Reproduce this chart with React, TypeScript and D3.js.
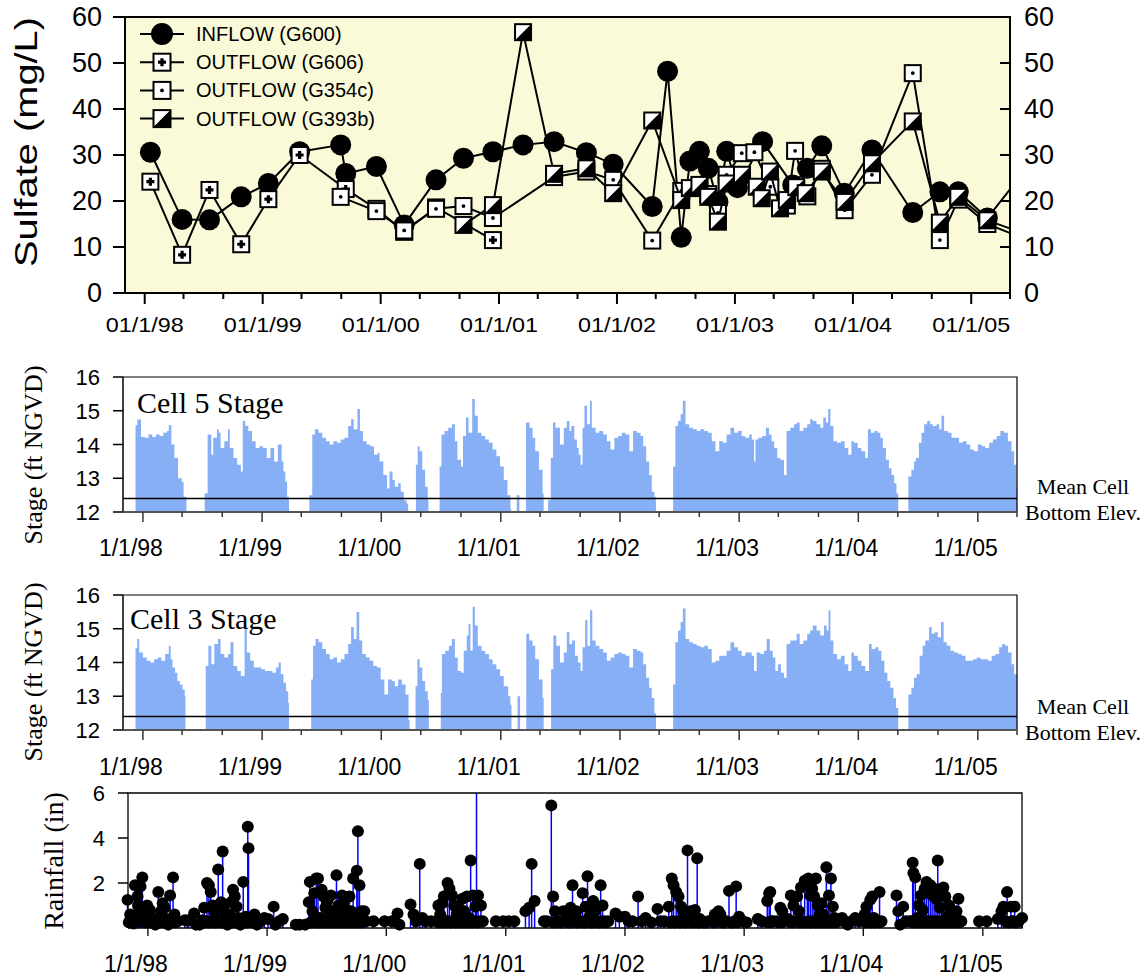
import React, { useEffect, useRef } from "react";
import * as d3 from "d3";

const SANS = "'Liberation Sans', Arial, Helvetica, sans-serif";
const SERIF = "'Liberation Serif', 'Times New Roman', Times, serif";

// Shared time window for every panel
const DATE_START = new Date(Date.UTC(1997, 10, 1));
const DATE_END = new Date(Date.UTC(2005, 4, 1));

// Sulfate samples: [decimal year, mg/L]
const inflowG600: [number, number][] = [
  [1998.048, 30.6], [1998.317, 16.0], [1998.549, 15.9], [1998.818, 20.9], [1999.048, 23.8],
  [1999.313, 30.7], [1999.661, 32.2], [1999.704, 26.0], [1999.964, 27.5], [2000.199, 14.8],
  [2000.468, 24.6], [2000.7, 29.3], [2000.949, 30.7], [2001.204, 32.2], [2001.467, 32.9],
  [2001.741, 30.5], [2001.968, 28.0], [2002.299, 18.8], [2002.429, 48.2], [2002.545, 12.1],
  [2002.618, 28.7], [2002.699, 30.8], [2002.774, 27.1], [2002.856, 19.8], [2002.93, 30.8],
  [2003.021, 22.9], [2003.234, 32.9], [2003.49, 23.5], [2003.614, 27.1], [2003.736, 32.0],
  [2003.927, 21.7], [2004.161, 31.1], [2004.506, 17.5], [2004.735, 22.0], [2004.891, 22.0],
  [2005.137, 16.3], [2005.45, 26.5],
];
const outflowG606: [number, number][] = [
  [1998.048, 24.2], [1998.317, 8.3], [1998.549, 22.4], [1998.818, 10.6], [1999.048, 20.4],
  [1999.313, 30.0], [1999.704, 22.6], [1999.964, 18.3], [2000.199, 13.3], [2000.468, 18.6],
  [2000.949, 11.5],
];
const outflowG354c: [number, number][] = [
  [1999.661, 20.9], [1999.964, 17.8], [2000.199, 13.6], [2000.468, 18.3], [2000.7, 18.9],
  [2000.949, 16.3], [2001.467, 25.2], [2001.741, 26.4], [2001.968, 24.6], [2002.299, 11.4],
  [2002.545, 22.2], [2002.699, 23.0], [2002.774, 21.5], [2002.856, 17.4], [2002.93, 25.7],
  [2003.058, 30.4], [2003.165, 30.6], [2003.3, 23.1], [2003.44, 19.0], [2003.51, 30.9],
  [2003.614, 21.0], [2003.736, 27.0], [2003.93, 18.0], [2004.161, 25.7], [2004.506, 47.8],
  [2004.735, 11.5], [2004.891, 20.3], [2005.137, 15.0], [2005.45, 11.8],
];
const outflowG393b: [number, number][] = [
  [2000.7, 14.8], [2000.949, 19.1], [2001.204, 56.7], [2001.467, 25.9], [2001.741, 27.1],
  [2001.968, 21.7], [2002.299, 37.5], [2002.545, 20.2], [2002.618, 22.8], [2002.699, 23.5],
  [2002.774, 20.9], [2002.856, 15.5], [2002.93, 23.8], [2003.06, 25.7], [2003.185, 23.1],
  [2003.227, 20.6], [2003.297, 26.4], [2003.382, 18.4], [2003.44, 20.2], [2003.52, 23.0],
  [2003.6, 21.7], [2003.736, 26.4], [2003.929, 19.8], [2004.161, 28.2], [2004.506, 37.3],
  [2004.735, 15.3], [2004.891, 20.9], [2005.137, 15.8], [2005.45, 12.9],
];
const sulfateLegend = ["INFLOW (G600)", "OUTFLOW (G606)", "OUTFLOW (G354c)", "OUTFLOW (G393b)"];
const sulfateTicks = [0, 10, 20, 30, 40, 50, 60];

// Cell stage runs while the cell held water: [decimal year, ft NGVD]
const cell5Stage: [number, number][][] = [
  [[1997.938, 14.57], [1997.953, 14.74], [1997.984, 14.22], [1998.016, 14.2], [1998.047, 14.3], [1998.078, 14.22], [1998.109, 14.3], [1998.14, 14.25], [1998.171, 14.35], [1998.202, 14.4], [1998.217, 14.57], [1998.239, 14.0], [1998.264, 13.6], [1998.295, 13.0], [1998.326, 12.9], [1998.341, 12.45], [1998.366, 12.0]],
  [[1998.518, 12.55], [1998.543, 14.3], [1998.574, 13.7], [1998.59, 14.2], [1998.621, 14.45], [1998.636, 14.35], [1998.652, 13.9], [1998.683, 14.1], [1998.714, 14.45], [1998.729, 13.9], [1998.76, 13.6], [1998.791, 13.4], [1998.822, 13.2], [1998.838, 14.7], [1998.859, 14.55], [1998.884, 14.4], [1998.915, 14.1], [1998.946, 13.9], [1998.977, 13.95], [1999.008, 13.9], [1999.039, 13.6], [1999.07, 13.9], [1999.101, 13.5], [1999.132, 14.0], [1999.164, 13.5], [1999.179, 13.2], [1999.195, 12.9], [1999.21, 12.45], [1999.226, 12.0]],
  [[1999.396, 12.5], [1999.421, 14.3], [1999.443, 14.45], [1999.474, 14.35], [1999.505, 14.2], [1999.536, 14.1], [1999.567, 14.0], [1999.598, 14.1], [1999.629, 14.05], [1999.66, 14.15], [1999.691, 14.2], [1999.722, 14.55], [1999.747, 14.75], [1999.769, 14.45], [1999.8, 15.05], [1999.821, 14.4], [1999.846, 14.1], [1999.877, 14.0], [1999.908, 13.95], [1999.939, 13.7], [1999.97, 13.75], [1999.986, 13.5], [2000.017, 13.1], [2000.048, 12.7], [2000.069, 13.2], [2000.094, 12.95], [2000.113, 12.75], [2000.141, 12.85], [2000.163, 12.6], [2000.188, 12.35], [2000.212, 12.25], [2000.225, 12.05]],
  [[2000.29, 13.4], [2000.305, 13.95], [2000.321, 13.8], [2000.343, 13.25], [2000.367, 12.75], [2000.389, 12.35], [2000.395, 12.0]],
  [[2000.488, 13.35], [2000.504, 14.3], [2000.529, 14.4], [2000.56, 14.5], [2000.591, 14.6], [2000.616, 14.1], [2000.637, 13.55], [2000.668, 13.35], [2000.684, 14.25], [2000.709, 14.8], [2000.73, 14.35], [2000.761, 15.35], [2000.783, 14.85], [2000.808, 14.35], [2000.839, 14.25], [2000.87, 14.15], [2000.901, 14.05], [2000.932, 13.85], [2000.963, 13.65], [2000.994, 13.35], [2001.025, 12.95], [2001.056, 12.5], [2001.081, 12.1], [2001.087, 12.0]],
  [[2001.134, 12.5], [2001.156, 12.0]],
  [[2001.211, 14.65], [2001.242, 14.5], [2001.267, 14.2], [2001.289, 13.8], [2001.32, 13.25], [2001.351, 12.55], [2001.36, 12.0]],
  [[2001.397, 12.35], [2001.419, 13.6], [2001.438, 14.65], [2001.459, 14.5], [2001.497, 14.0], [2001.529, 14.5], [2001.554, 14.7], [2001.576, 14.4], [2001.592, 14.55], [2001.617, 14.15], [2001.639, 13.9], [2001.654, 13.7], [2001.67, 13.4], [2001.686, 14.5], [2001.702, 15.15], [2001.724, 14.6], [2001.749, 15.3], [2001.764, 14.5], [2001.796, 14.35], [2001.827, 14.4], [2001.859, 14.3], [2001.89, 14.1], [2001.921, 13.85], [2001.953, 14.2], [2001.984, 14.25], [2002.016, 14.35], [2002.047, 14.3], [2002.079, 13.8], [2002.11, 14.4], [2002.141, 14.35], [2002.173, 14.25], [2002.195, 13.95], [2002.22, 13.5], [2002.245, 13.1], [2002.267, 12.6], [2002.289, 12.45], [2002.302, 12.0]],
  [[2002.446, 13.35], [2002.465, 14.55], [2002.487, 14.7], [2002.509, 14.9], [2002.528, 15.3], [2002.55, 14.6], [2002.581, 14.5], [2002.613, 14.45], [2002.644, 14.4], [2002.675, 14.45], [2002.707, 14.4], [2002.738, 14.35], [2002.77, 14.1], [2002.801, 13.8], [2002.833, 14.1], [2002.864, 14.05], [2002.895, 14.3], [2002.927, 14.5], [2002.958, 14.35], [2002.99, 14.4], [2003.021, 14.25], [2003.052, 14.2], [2003.084, 14.3], [2003.106, 14.15], [2003.125, 13.5], [2003.137, 14.15], [2003.162, 14.2], [2003.194, 14.25], [2003.225, 14.5], [2003.25, 14.3], [2003.272, 14.1], [2003.294, 13.9], [2003.32, 13.6], [2003.345, 13.55], [2003.376, 13.1], [2003.398, 14.4], [2003.429, 14.5], [2003.461, 14.6], [2003.483, 14.65], [2003.508, 14.4], [2003.539, 14.5], [2003.571, 14.6], [2003.596, 14.75], [2003.618, 14.7], [2003.649, 14.6], [2003.681, 14.5], [2003.706, 14.8], [2003.728, 14.65], [2003.747, 15.05], [2003.766, 14.55], [2003.791, 14.1], [2003.822, 14.05], [2003.854, 14.1], [2003.885, 13.9], [2003.916, 13.7], [2003.942, 14.1], [2003.964, 14.05], [2003.995, 13.9], [2004.026, 13.8], [2004.058, 13.6], [2004.08, 14.45], [2004.105, 14.35], [2004.136, 14.4], [2004.161, 14.35], [2004.184, 14.2], [2004.205, 13.9], [2004.231, 13.55], [2004.256, 13.3], [2004.278, 13.1], [2004.3, 12.85], [2004.319, 12.55], [2004.334, 12.0]],
  [[2004.419, 13.05], [2004.444, 13.25], [2004.466, 13.5], [2004.482, 13.6], [2004.507, 14.05], [2004.529, 14.35], [2004.551, 14.6], [2004.576, 14.7], [2004.601, 14.6], [2004.623, 14.55], [2004.655, 14.6], [2004.677, 14.45], [2004.696, 14.85], [2004.718, 14.4], [2004.749, 14.35], [2004.78, 14.2], [2004.812, 14.2], [2004.843, 14.05], [2004.875, 14.1], [2004.906, 14.0], [2004.937, 13.85], [2004.969, 13.8], [2005.0, 14.0], [2005.032, 13.95], [2005.063, 13.9], [2005.095, 14.05], [2005.126, 14.15], [2005.157, 14.25], [2005.189, 14.4], [2005.22, 14.35], [2005.252, 14.1], [2005.283, 13.8], [2005.305, 13.4], [2005.324, 12.75], [2005.33, 12.75]],
];

const cell3Stage: [number, number][][] = [
  [[1997.938, 14.42], [1997.953, 14.7], [1997.969, 14.3], [1998.0, 14.15], [1998.031, 14.05], [1998.062, 14.0], [1998.093, 14.1], [1998.124, 14.15], [1998.155, 14.05], [1998.186, 14.25], [1998.217, 14.5], [1998.233, 14.1], [1998.248, 13.85], [1998.27, 13.7], [1998.289, 13.45], [1998.31, 13.35], [1998.332, 13.2], [1998.351, 13.0], [1998.357, 13.0]],
  [[1998.527, 13.9], [1998.549, 14.5], [1998.574, 13.95], [1998.599, 14.55], [1998.63, 14.7], [1998.652, 14.25], [1998.683, 14.15], [1998.714, 14.25], [1998.735, 14.6], [1998.76, 13.9], [1998.791, 13.75], [1998.822, 13.6], [1998.853, 15.05], [1998.872, 14.3], [1998.9, 14.05], [1998.931, 13.85], [1998.962, 13.85], [1998.993, 13.8], [1999.024, 13.75], [1999.055, 13.75], [1999.086, 13.7], [1999.117, 13.85], [1999.139, 14.0], [1999.157, 13.65], [1999.179, 13.4], [1999.201, 13.15], [1999.219, 12.8], [1999.226, 12.8]],
  [[1999.412, 13.5], [1999.427, 14.5], [1999.449, 14.7], [1999.474, 14.6], [1999.505, 14.4], [1999.536, 14.25], [1999.567, 14.1], [1999.598, 14.15], [1999.629, 14.0], [1999.66, 14.1], [1999.691, 14.25], [1999.722, 14.55], [1999.747, 15.05], [1999.769, 14.7], [1999.793, 15.5], [1999.815, 14.65], [1999.84, 14.25], [1999.871, 14.15], [1999.902, 14.05], [1999.933, 13.9], [1999.964, 13.85], [1999.995, 13.5], [2000.026, 13.05], [2000.057, 13.5], [2000.088, 13.45], [2000.113, 13.3], [2000.141, 13.5], [2000.172, 13.35], [2000.203, 13.05], [2000.228, 12.3], [2000.237, 12.3]],
  [[2000.287, 13.3], [2000.302, 14.1], [2000.321, 13.85], [2000.343, 13.45], [2000.367, 13.15], [2000.389, 12.9], [2000.398, 12.9]],
  [[2000.498, 13.1], [2000.507, 14.25], [2000.535, 14.35], [2000.566, 14.5], [2000.591, 14.7], [2000.616, 14.15], [2000.64, 13.75], [2000.668, 13.7], [2000.69, 14.35], [2000.715, 14.8], [2000.73, 15.15], [2000.746, 14.35], [2000.765, 15.65], [2000.783, 15.1], [2000.808, 14.5], [2000.839, 14.35], [2000.87, 14.25], [2000.901, 14.1], [2000.932, 13.95], [2000.963, 13.8], [2000.994, 13.6], [2001.025, 13.3], [2001.062, 13.0], [2001.081, 12.75], [2001.09, 12.75]],
  [[2001.141, 13.0], [2001.162, 13.0]],
  [[2001.214, 14.85], [2001.239, 14.65], [2001.267, 14.5], [2001.289, 14.1], [2001.32, 13.5], [2001.351, 12.95], [2001.36, 12.95]],
  [[2001.422, 13.8], [2001.441, 14.8], [2001.466, 14.5], [2001.497, 14.0], [2001.529, 14.3], [2001.554, 14.9], [2001.576, 14.55], [2001.598, 14.65], [2001.623, 14.2], [2001.648, 14.0], [2001.67, 13.75], [2001.686, 14.45], [2001.708, 15.25], [2001.727, 14.5], [2001.749, 15.55], [2001.768, 14.65], [2001.796, 14.5], [2001.827, 14.4], [2001.859, 14.3], [2001.89, 14.05], [2001.921, 14.15], [2001.953, 14.25], [2001.984, 14.3], [2002.016, 14.25], [2002.047, 14.2], [2002.079, 13.85], [2002.11, 14.4], [2002.141, 14.35], [2002.173, 14.3], [2002.195, 13.95], [2002.22, 13.55], [2002.245, 13.25], [2002.267, 12.95], [2002.289, 12.5], [2002.302, 12.5]],
  [[2002.446, 13.35], [2002.465, 14.6], [2002.487, 14.95], [2002.509, 15.2], [2002.528, 15.6], [2002.55, 14.7], [2002.581, 14.6], [2002.613, 14.55], [2002.644, 14.5], [2002.675, 14.45], [2002.707, 14.5], [2002.738, 14.4], [2002.77, 14.0], [2002.801, 14.05], [2002.833, 14.2], [2002.864, 14.2], [2002.895, 14.35], [2002.927, 14.6], [2002.958, 14.45], [2002.99, 14.35], [2003.021, 14.2], [2003.052, 14.3], [2003.084, 14.3], [2003.106, 14.2], [2003.125, 13.75], [2003.147, 14.3], [2003.178, 14.25], [2003.209, 14.35], [2003.231, 14.7], [2003.257, 14.35], [2003.282, 14.15], [2003.304, 13.75], [2003.326, 13.95], [2003.351, 13.7], [2003.376, 13.55], [2003.398, 14.55], [2003.429, 14.65], [2003.461, 14.65], [2003.483, 14.85], [2003.508, 14.55], [2003.539, 14.65], [2003.571, 14.85], [2003.596, 14.95], [2003.618, 15.1], [2003.649, 14.95], [2003.681, 14.8], [2003.712, 15.1], [2003.734, 14.95], [2003.75, 15.55], [2003.766, 14.65], [2003.791, 14.25], [2003.822, 14.1], [2003.854, 14.2], [2003.885, 13.95], [2003.916, 13.75], [2003.942, 14.3], [2003.964, 14.2], [2003.995, 14.05], [2004.026, 13.9], [2004.058, 13.75], [2004.089, 14.55], [2004.111, 14.4], [2004.143, 14.45], [2004.168, 14.35], [2004.193, 14.05], [2004.218, 13.7], [2004.243, 13.45], [2004.268, 13.25], [2004.294, 12.95], [2004.315, 12.65], [2004.334, 12.1]],
  [[2004.419, 13.05], [2004.444, 13.25], [2004.466, 13.55], [2004.488, 13.65], [2004.513, 14.2], [2004.538, 14.5], [2004.56, 14.65], [2004.592, 15.05], [2004.614, 14.85], [2004.639, 14.9], [2004.664, 14.75], [2004.692, 15.2], [2004.714, 14.6], [2004.74, 14.5], [2004.771, 14.35], [2004.802, 14.3], [2004.834, 14.25], [2004.865, 14.2], [2004.897, 14.05], [2004.928, 14.05], [2004.959, 14.1], [2004.991, 14.15], [2005.022, 14.1], [2005.054, 14.1], [2005.085, 14.05], [2005.116, 14.2], [2005.148, 14.25], [2005.179, 14.45], [2005.204, 14.55], [2005.229, 14.5], [2005.254, 14.3], [2005.283, 13.95], [2005.305, 13.65], [2005.33, 13.45]],
];
const stageTicks = [12, 13, 14, 15, 16];
const meanCellBottom = 12.4;

// Daily rainfall events: [decimal year, inches]
const rainfall: [number, number][] = [
  [1997.829, 1.25], [1997.851, 0.6], [1997.87, 0.5], [1997.891, 1.9], [1997.913, 1.4], [1997.917, 1.0], [1997.922, 0.7], [1997.938, 1.85], [1997.953, 2.25], [1997.969, 0.6], [1997.994, 1.0],
  [1998.016, 0.8], [1998.031, 0.45], [1998.047, 0.3], [1998.062, 0.15], [1998.087, 1.6], [1998.109, 0.75], [1998.124, 1.1], [1998.14, 0.9], [1998.155, 0.4], [1998.171, 0.15], [1998.186, 1.45], [1998.211, 2.25], [1998.223, 0.6], [1998.248, 0.3],
  [1998.31, 0.35], [1998.341, 0.35], [1998.388, 0.65], [1998.403, 0.15], [1998.434, 0.15], [1998.459, 0.35], [1998.472, 0.9], [1998.496, 2.0], [1998.512, 1.9], [1998.527, 1.6], [1998.543, 1.0], [1998.558, 0.75], [1998.574, 0.3], [1998.59, 2.6], [1998.596, 1.0], [1998.614, 1.15], [1998.627, 3.4], [1998.636, 0.8], [1998.652, 0.45], [1998.667, 0.15], [1998.683, 0.6], [1998.698, 1.15], [1998.714, 1.7], [1998.729, 1.4], [1998.745, 0.95], [1998.76, 0.45], [1998.776, 0.15], [1998.8, 2.05], [1998.822, 0.5], [1998.838, 4.5], [1998.844, 3.55], [1998.869, 0.45], [1998.894, 0.6], [1998.915, 0.15], [1998.946, 0.3], [1998.977, 0.45],
  [1999.008, 0.4], [1999.055, 0.95], [1999.07, 0.15], [1999.101, 0.3], [1999.132, 0.4], [1999.241, 0.15], [1999.272, 0.15], [1999.319, 0.15], [1999.35, 1.15], [1999.359, 2.05], [1999.381, 0.75], [1999.396, 1.55], [1999.412, 2.2], [1999.427, 2.2], [1999.443, 0.45], [1999.458, 1.7], [1999.474, 1.4], [1999.489, 0.9], [1999.505, 1.2], [1999.52, 0.45], [1999.536, 1.45], [1999.551, 0.75], [1999.567, 0.3], [1999.582, 2.35], [1999.598, 1.0], [1999.613, 0.6], [1999.629, 1.45], [1999.644, 1.2], [1999.66, 0.8], [1999.675, 0.3], [1999.691, 1.4], [1999.706, 0.75], [1999.722, 2.2], [1999.737, 0.45], [1999.753, 2.55], [1999.762, 4.3], [1999.775, 1.9], [1999.793, 0.75], [1999.815, 0.75], [1999.831, 0.3], [1999.893, 0.3], [1999.986, 0.3],
  [2000.048, 0.3], [2000.094, 0.65], [2000.11, 0.15], [2000.203, 1.05], [2000.228, 0.6], [2000.249, 0.3], [2000.28, 2.85], [2000.302, 0.45], [2000.327, 0.3], [2000.374, 0.3], [2000.42, 0.3], [2000.436, 1.0], [2000.451, 0.6], [2000.467, 1.1], [2000.482, 1.4], [2000.498, 0.3], [2000.513, 2.0], [2000.529, 1.75], [2000.55, 1.45], [2000.569, 1.0], [2000.591, 0.6], [2000.606, 0.9], [2000.622, 0.45], [2000.637, 1.3], [2000.653, 0.75], [2000.675, 1.4], [2000.693, 0.45], [2000.706, 3.0], [2000.724, 1.45], [2000.746, 0.95], [2000.755, 6.8], [2000.768, 1.45], [2000.792, 1.0], [2000.808, 0.3], [2000.917, 0.3], [2000.979, 0.3],
  [2001.025, 0.3], [2001.072, 0.3], [2001.165, 0.75], [2001.196, 0.9], [2001.217, 2.85], [2001.242, 1.2], [2001.32, 0.3], [2001.345, 0.3], [2001.382, 5.45], [2001.397, 1.4], [2001.413, 0.75], [2001.482, 0.75], [2001.513, 0.45], [2001.544, 0.9], [2001.56, 1.9], [2001.592, 0.75], [2001.623, 0.3], [2001.645, 1.55], [2001.67, 0.95], [2001.686, 2.3], [2001.702, 0.5], [2001.733, 1.2], [2001.749, 0.75], [2001.764, 0.3], [2001.796, 1.9], [2001.812, 1.0], [2001.827, 0.3], [2001.859, 0.3], [2001.921, 0.65], [2001.953, 0.5],
  [2002.0, 0.5], [2002.031, 0.3], [2002.063, 0.3], [2002.11, 1.4], [2002.141, 0.3], [2002.173, 0.45], [2002.22, 0.25], [2002.273, 0.85], [2002.298, 0.3], [2002.33, 0.3], [2002.368, 0.95], [2002.393, 2.2], [2002.408, 1.9], [2002.43, 1.6], [2002.449, 1.4], [2002.471, 0.95], [2002.487, 0.75], [2002.503, 0.3], [2002.525, 3.45], [2002.55, 0.75], [2002.565, 0.3], [2002.587, 0.8], [2002.606, 3.1], [2002.628, 0.4], [2002.675, 0.25], [2002.723, 0.3], [2002.754, 0.6], [2002.785, 0.75], [2002.801, 0.6], [2002.833, 0.25], [2002.873, 1.65], [2002.911, 0.25], [2002.933, 1.85], [2002.958, 0.5], [2002.99, 0.3],
  [2003.021, 0.25], [2003.115, 0.4], [2003.147, 0.3], [2003.194, 1.2], [2003.21, 1.55], [2003.219, 1.6], [2003.241, 0.3], [2003.272, 0.3], [2003.304, 0.9], [2003.32, 0.75], [2003.335, 0.3], [2003.367, 0.4], [2003.392, 1.45], [2003.414, 1.0], [2003.445, 1.4], [2003.461, 0.75], [2003.477, 1.8], [2003.508, 2.1], [2003.53, 1.9], [2003.539, 2.2], [2003.555, 1.45], [2003.571, 1.75], [2003.587, 1.4], [2003.602, 2.2], [2003.618, 1.0], [2003.634, 0.6], [2003.649, 1.1], [2003.665, 0.6], [2003.681, 0.3], [2003.69, 2.7], [2003.712, 1.45], [2003.728, 2.2], [2003.744, 0.95], [2003.759, 0.45], [2003.775, 0.3], [2003.822, 0.45], [2003.869, 0.15], [2003.901, 0.3], [2003.932, 0.45], [2003.964, 0.3],
  [2004.011, 0.6], [2004.026, 0.95], [2004.058, 1.25], [2004.074, 1.4], [2004.089, 0.45], [2004.105, 0.3], [2004.136, 1.6], [2004.152, 0.3], [2004.278, 1.45], [2004.293, 0.75], [2004.309, 0.15], [2004.334, 0.95], [2004.356, 0.3], [2004.388, 0.3], [2004.413, 2.9], [2004.419, 2.45], [2004.435, 2.25], [2004.451, 0.45], [2004.466, 1.0], [2004.482, 1.45], [2004.498, 0.8], [2004.513, 1.75], [2004.529, 2.05], [2004.545, 1.6], [2004.561, 1.9], [2004.576, 1.45], [2004.592, 1.75], [2004.608, 1.3], [2004.623, 3.0], [2004.639, 0.9], [2004.655, 1.75], [2004.67, 1.8], [2004.686, 1.4], [2004.702, 0.5], [2004.718, 1.0], [2004.733, 0.75], [2004.749, 0.45], [2004.765, 0.3], [2004.78, 0.75], [2004.796, 1.3], [2004.812, 0.3], [2004.969, 0.3],
  [2005.032, 0.3], [2005.126, 0.4], [2005.157, 0.75], [2005.173, 0.95], [2005.204, 1.6], [2005.236, 0.95], [2005.252, 0.3], [2005.267, 0.95], [2005.33, 0.45],
];
// Light-rain days that crowd the bottom of the rainfall panel in wet seasons
const rainfallLight: [number, number][] = [
  [1997.84, 0.25], [1997.88, 0.2], [1997.9, 0.35], [1997.93, 0.3], [1997.96, 0.3], [1997.98, 0.25], [1998.0, 0.3], [1998.055, 0.25], [1998.075, 0.3], [1998.1, 0.25], [1998.13, 0.3], [1998.15, 0.25], [1998.165, 0.3], [1998.195, 0.25], [1998.235, 0.25],
  [1998.48, 0.25], [1998.5, 0.3], [1998.52, 0.25], [1998.55, 0.3], [1998.565, 0.25], [1998.58, 0.35], [1998.605, 0.3], [1998.62, 0.25], [1998.645, 0.3], [1998.66, 0.3], [1998.675, 0.25], [1998.69, 0.3], [1998.705, 0.25], [1998.72, 0.3], [1998.735, 0.3], [1998.75, 0.25], [1998.77, 0.3], [1998.79, 0.25], [1998.81, 0.3], [1998.83, 0.25], [1998.855, 0.3], [1998.88, 0.25],
  [1999.365, 0.25], [1999.39, 0.3], [1999.405, 0.25], [1999.42, 0.3], [1999.435, 0.25], [1999.45, 0.3], [1999.465, 0.25], [1999.48, 0.3], [1999.497, 0.25], [1999.512, 0.3], [1999.528, 0.25], [1999.544, 0.3], [1999.56, 0.25], [1999.575, 0.3], [1999.59, 0.25], [1999.605, 0.3], [1999.62, 0.25], [1999.636, 0.3], [1999.652, 0.25], [1999.668, 0.3], [1999.683, 0.25], [1999.698, 0.3], [1999.714, 0.25], [1999.73, 0.3], [1999.745, 0.25], [1999.77, 0.3], [1999.785, 0.25], [1999.8, 0.3],
  [2000.44, 0.25], [2000.46, 0.3], [2000.475, 0.25], [2000.49, 0.3], [2000.505, 0.25], [2000.52, 0.3], [2000.54, 0.25], [2000.56, 0.3], [2000.58, 0.25], [2000.598, 0.3], [2000.614, 0.25], [2000.63, 0.3], [2000.645, 0.25], [2000.66, 0.3], [2000.684, 0.25], [2000.7, 0.3], [2000.715, 0.25], [2000.735, 0.3], [2000.76, 0.25], [2000.78, 0.3],
  [2001.4, 0.25], [2001.43, 0.3], [2001.46, 0.25], [2001.5, 0.3], [2001.53, 0.25], [2001.57, 0.3], [2001.6, 0.25], [2001.63, 0.3], [2001.66, 0.25], [2001.71, 0.3], [2001.72, 0.25], [2001.74, 0.3], [2001.78, 0.25], [2001.8, 0.3], [2001.84, 0.25],
  [2002.38, 0.25], [2002.4, 0.3], [2002.42, 0.25], [2002.44, 0.3], [2002.46, 0.25], [2002.48, 0.3], [2002.51, 0.25], [2002.535, 0.3], [2002.575, 0.25], [2002.595, 0.3], [2002.615, 0.25], [2002.64, 0.3], [2002.66, 0.25], [2002.7, 0.3], [2002.74, 0.25], [2002.77, 0.3], [2002.815, 0.25], [2002.85, 0.3], [2002.89, 0.25], [2002.92, 0.3], [2002.945, 0.25],
  [2003.2, 0.25], [2003.23, 0.3], [2003.29, 0.25], [2003.38, 0.3], [2003.4, 0.25], [2003.43, 0.3], [2003.47, 0.25], [2003.49, 0.3], [2003.52, 0.25], [2003.545, 0.3], [2003.56, 0.25], [2003.58, 0.3], [2003.595, 0.25], [2003.61, 0.3], [2003.625, 0.25], [2003.64, 0.3], [2003.657, 0.25], [2003.673, 0.3], [2003.7, 0.25], [2003.72, 0.3], [2003.735, 0.25], [2003.75, 0.3], [2003.765, 0.25], [2003.79, 0.3],
  [2004.02, 0.25], [2004.04, 0.3], [2004.065, 0.25], [2004.08, 0.3], [2004.095, 0.25], [2004.12, 0.3], [2004.14, 0.25],
  [2004.4, 0.3], [2004.425, 0.25], [2004.44, 0.3], [2004.46, 0.25], [2004.475, 0.3], [2004.49, 0.25], [2004.505, 0.3], [2004.52, 0.25], [2004.537, 0.3], [2004.553, 0.25], [2004.568, 0.3], [2004.584, 0.25], [2004.6, 0.3], [2004.615, 0.25], [2004.631, 0.3], [2004.647, 0.25], [2004.662, 0.3], [2004.678, 0.25], [2004.694, 0.3], [2004.71, 0.25], [2004.725, 0.3], [2004.741, 0.25], [2004.757, 0.3], [2004.772, 0.25], [2004.788, 0.3], [2004.804, 0.25], [2004.82, 0.3],
  [2005.19, 0.3], [2005.215, 0.25], [2005.245, 0.3], [2005.28, 0.25], [2005.3, 0.3],
];
const rainTicks = [2, 4, 6];

type Sel = d3.Selection<any, unknown, null, undefined>;
type MarkerKind = "circle" | "plus" | "dot" | "half";

const sulfateSeries: { data: [number, number][]; marker: MarkerKind }[] = [
  { data: inflowG600, marker: "circle" },
  { data: outflowG606, marker: "plus" },
  { data: outflowG354c, marker: "dot" },
  { data: outflowG393b, marker: "half" },
];

function yearToDate(y: number): Date {
  const yr = Math.floor(y);
  const a = Date.UTC(yr, 0, 1);
  const b = Date.UTC(yr + 1, 0, 1);
  return new Date(a + (y - yr) * (b - a));
}

function drawMarker(g: Sel, kind: MarkerKind, cx: number, cy: number, size: number) {
  if (kind === "circle") {
    g.append("circle").attr("cx", cx).attr("cy", cy).attr("r", size / 2).attr("fill", "#000");
    return;
  }
  const h = size / 2;
  g.append("rect").attr("x", cx - h).attr("y", cy - h).attr("width", size).attr("height", size)
    .attr("fill", "#fff").attr("stroke", "#000").attr("stroke-width", 2);
  if (kind === "plus") {
    g.append("path").attr("d", `M${cx - 4},${cy}H${cx + 4}M${cx},${cy - 4}V${cy + 4}`)
      .attr("stroke", "#000").attr("stroke-width", 3.2);
  } else if (kind === "dot") {
    g.append("circle").attr("cx", cx).attr("cy", cy).attr("r", 1.9).attr("fill", "#000");
  } else {
    g.append("path").attr("d", `M${cx + h},${cy - h}L${cx + h},${cy + h}L${cx - h},${cy + h}Z`).attr("fill", "#000");
  }
}

function timeTicks() {
  return d3.utcMonth.every(4)!.range(DATE_START, d3.utcDay.offset(DATE_END, 1));
}

function drawSulfate(svg: Sel) {
  const L = 125, R = 1010, T = 17, B = 293;
  const x = d3.scaleUtc().domain([DATE_START, DATE_END]).range([L, R]);
  const y = d3.scaleLinear().domain([0, 60]).range([B, T]);
  const g = svg.append("g");
  g.append("rect").attr("x", L).attr("y", T).attr("width", R - L).attr("height", B - T).attr("fill", "#FAFAD9");

  svg.append("defs").append("clipPath").attr("id", "sulfate-clip")
    .append("rect").attr("x", L).attr("y", T - 12).attr("width", R - L).attr("height", B - T + 12);
  const plot = g.append("g").attr("clip-path", "url(#sulfate-clip)");
  const line = d3.line<[number, number]>().x((d) => x(yearToDate(d[0]))).y((d) => y(d[1]));
  sulfateSeries.forEach((s) => {
    plot.append("path").attr("d", line(s.data)).attr("fill", "none").attr("stroke", "#000")
      .attr("stroke-width", 2).attr("stroke-linejoin", "round");
    s.data.forEach((d) => drawMarker(plot, s.marker, x(yearToDate(d[0])), y(d[1]), s.marker === "circle" ? 21 : 16));
  });

  // frame and axes
  g.append("path").attr("d", `M${L},${B}V${T}H${R}V${B}H${L}`).attr("fill", "none").attr("stroke", "#000").attr("stroke-width", 2);
  sulfateTicks.forEach((v) => {
    g.append("line").attr("x1", L - 12).attr("x2", L).attr("y1", y(v)).attr("y2", y(v)).attr("stroke", "#000").attr("stroke-width", 2);
    g.append("line").attr("x1", R - 10).attr("x2", R).attr("y1", y(v)).attr("y2", y(v)).attr("stroke", "#000").attr("stroke-width", 2);
    g.append("text").attr("x", 102).attr("y", y(v) + 9).attr("text-anchor", "end")
      .attr("font-family", SANS).attr("font-size", 27).text(v);
    g.append("text").attr("x", 1024).attr("y", y(v) + 9).attr("text-anchor", "start")
      .attr("font-family", SANS).attr("font-size", 27).text(v);
  });
  const fmt = d3.utcFormat("%m/%-d/%y");
  timeTicks().forEach((t) => {
    const isYear = t.getUTCMonth() === 0;
    const px = x(t);
    g.append("line").attr("x1", px).attr("x2", px).attr("y1", B).attr("y2", B + (isYear ? 11 : 6))
      .attr("stroke", "#000").attr("stroke-width", 2);
    if (isYear) {
      g.append("text").attr("x", px).attr("y", 332).attr("text-anchor", "middle")
        .attr("font-family", SANS).attr("font-size", 21).attr("textLength", 78).attr("lengthAdjust", "spacingAndGlyphs")
        .text(fmt(t));
    }
  });

  g.append("text").attr("transform", "translate(37,142) rotate(-90)").attr("text-anchor", "middle")
    .attr("font-family", SANS).attr("font-size", 31).attr("textLength", 250).attr("lengthAdjust", "spacingAndGlyphs")
    .text("Sulfate (mg/L)");

  // legend
  const kinds: MarkerKind[] = ["circle", "plus", "dot", "half"];
  sulfateLegend.forEach((label, i) => {
    const cy = 34 + i * 28.2;
    g.append("line").attr("x1", 140).attr("x2", 184).attr("y1", cy).attr("y2", cy).attr("stroke", "#000").attr("stroke-width", 2);
    drawMarker(g, kinds[i], 162, cy, kinds[i] === "circle" ? 22 : 17);
    g.append("text").attr("x", 196).attr("y", cy + 7).attr("font-family", SANS).attr("font-size", 20).text(label);
  });
}

function drawStage(svg: Sel, runs: [number, number][][], o: {
  T: number; B: number; title: string; titleX: number; titleY: number; labelY: number; axisTitleY: number; noteY: number;
}) {
  const L = 123, R = 1017;
  const x = d3.scaleUtc().domain([DATE_START, DATE_END]).range([L, R]);
  const y = d3.scaleLinear().domain([12, 16]).range([o.B, o.T]);
  const g = svg.append("g");
  const area = d3.area<[number, number]>().x((d) => x(yearToDate(d[0]))).y0(y(12)).y1((d) => y(d[1])).curve(d3.curveStepAfter);
  runs.forEach((r) => g.append("path").attr("d", area(r)).attr("fill", "#87AFF6"));

  g.append("line").attr("x1", L).attr("x2", R).attr("y1", y(meanCellBottom)).attr("y2", y(meanCellBottom))
    .attr("stroke", "#000").attr("stroke-width", 1.5);
  g.append("path").attr("d", `M${L},${o.T}H${R}V${o.B}`).attr("fill", "none").attr("stroke", "#000").attr("stroke-width", 1.2);
  g.append("line").attr("x1", L).attr("x2", L).attr("y1", o.T).attr("y2", o.B).attr("stroke", "#000").attr("stroke-width", 1.5);
  g.append("line").attr("x1", L).attr("x2", R).attr("y1", o.B).attr("y2", o.B).attr("stroke", "#555").attr("stroke-width", 2);

  stageTicks.forEach((v) => {
    g.append("line").attr("x1", L - 10).attr("x2", L).attr("y1", y(v)).attr("y2", y(v)).attr("stroke", "#000").attr("stroke-width", 1.5);
    g.append("text").attr("x", 100).attr("y", y(v) + 8).attr("text-anchor", "end")
      .attr("font-family", SANS).attr("font-size", 22).text(v);
  });
  const fmt = d3.utcFormat("%-m/%-d/%y");
  timeTicks().forEach((t) => {
    const isYear = t.getUTCMonth() === 0;
    const px = x(t);
    g.append("line").attr("x1", px).attr("x2", px).attr("y1", o.B).attr("y2", o.B + (isYear ? 10 : 5))
      .attr("stroke", "#333").attr("stroke-width", 1.5);
    if (isYear) {
      g.append("text").attr("x", px - 12).attr("y", o.labelY).attr("text-anchor", "middle")
        .attr("font-family", SANS).attr("font-size", 23).text(fmt(t));
    }
  });

  g.append("text").attr("x", o.titleX).attr("y", o.titleY).attr("font-family", SERIF).attr("font-size", 30).text(o.title);
  g.append("text").attr("transform", `translate(42,${o.axisTitleY}) rotate(-90)`).attr("text-anchor", "middle")
    .attr("font-family", SERIF).attr("font-size", 26).text("Stage (ft NGVD)");
  g.append("text").attr("x", 1083).attr("y", o.noteY).attr("text-anchor", "middle")
    .attr("font-family", SERIF).attr("font-size", 22).text("Mean Cell");
  g.append("text").attr("x", 1083).attr("y", o.noteY + 26).attr("text-anchor", "middle")
    .attr("font-family", SERIF).attr("font-size", 22).text("Bottom Elev.");
}

function drawRain(svg: Sel) {
  const L = 128, R = 1022, T = 793, B = 928;
  const x = d3.scaleUtc().domain([DATE_START, DATE_END]).range([L, R]);
  const y = d3.scaleLinear().domain([0, 6]).range([B, T]);
  const g = svg.append("g");
  const events = rainfall.concat(rainfallLight);
  svg.append("defs").append("clipPath").attr("id", "rain-clip")
    .append("rect").attr("x", L - 10).attr("y", T).attr("width", R - L + 20).attr("height", B - T + 10);
  const plot = g.append("g").attr("clip-path", "url(#rain-clip)");
  events.forEach((d) => {
    const px = x(yearToDate(d[0]));
    plot.append("line").attr("x1", px).attr("x2", px).attr("y1", y(0)).attr("y2", y(d[1]))
      .attr("stroke", "#0000FF").attr("stroke-width", 1.5);
  });
  events.forEach((d) => {
    plot.append("circle").attr("cx", x(yearToDate(d[0]))).attr("cy", y(d[1])).attr("r", 6).attr("fill", "#000");
  });

  g.append("path").attr("d", `M${L},${B}V${T}H${R}V${B}H${L}`).attr("fill", "none").attr("stroke", "#000").attr("stroke-width", 1.3);
  rainTicks.forEach((v) => {
    g.append("line").attr("x1", L - 10).attr("x2", L).attr("y1", y(v)).attr("y2", y(v)).attr("stroke", "#000").attr("stroke-width", 1.5);
    g.append("text").attr("x", 105).attr("y", y(v) + 8).attr("text-anchor", "end")
      .attr("font-family", SANS).attr("font-size", 22).text(v);
  });
  const fmt = d3.utcFormat("%-m/%-d/%y");
  timeTicks().forEach((t) => {
    const isYear = t.getUTCMonth() === 0;
    const px = x(t);
    g.append("line").attr("x1", px).attr("x2", px).attr("y1", isYear ? B : B - 5).attr("y2", isYear ? B + 8 : B)
      .attr("stroke", "#000").attr("stroke-width", 1.3);
    if (isYear) {
      g.append("text").attr("x", px - 12).attr("y", 972).attr("text-anchor", "middle")
        .attr("font-family", SANS).attr("font-size", 23).text(fmt(t));
    }
  });
  g.append("text").attr("transform", "translate(63,861) rotate(-90)").attr("text-anchor", "middle")
    .attr("font-family", SERIF).attr("font-size", 28).text("Rainfall (in)");
}

export default function App() {
  const ref = useRef<SVGSVGElement | null>(null);
  useEffect(() => {
    document.body.style.margin = "0";
    const svg = d3.select(ref.current) as unknown as Sel;
    svg.selectAll("*").remove();
    drawSulfate(svg);
    drawStage(svg, cell5Stage, { T: 377, B: 512, title: "Cell 5 Stage", titleX: 137, titleY: 413, labelY: 556, axisTitleY: 455, noteY: 494 });
    drawStage(svg, cell3Stage, { T: 595, B: 730, title: "Cell 3 Stage", titleX: 130, titleY: 629, labelY: 775, axisTitleY: 672, noteY: 714 });
    drawRain(svg);
  }, []);
  return <svg ref={ref} width={1147} height={979} style={{ display: "block", background: "#fff" }} />;
}
